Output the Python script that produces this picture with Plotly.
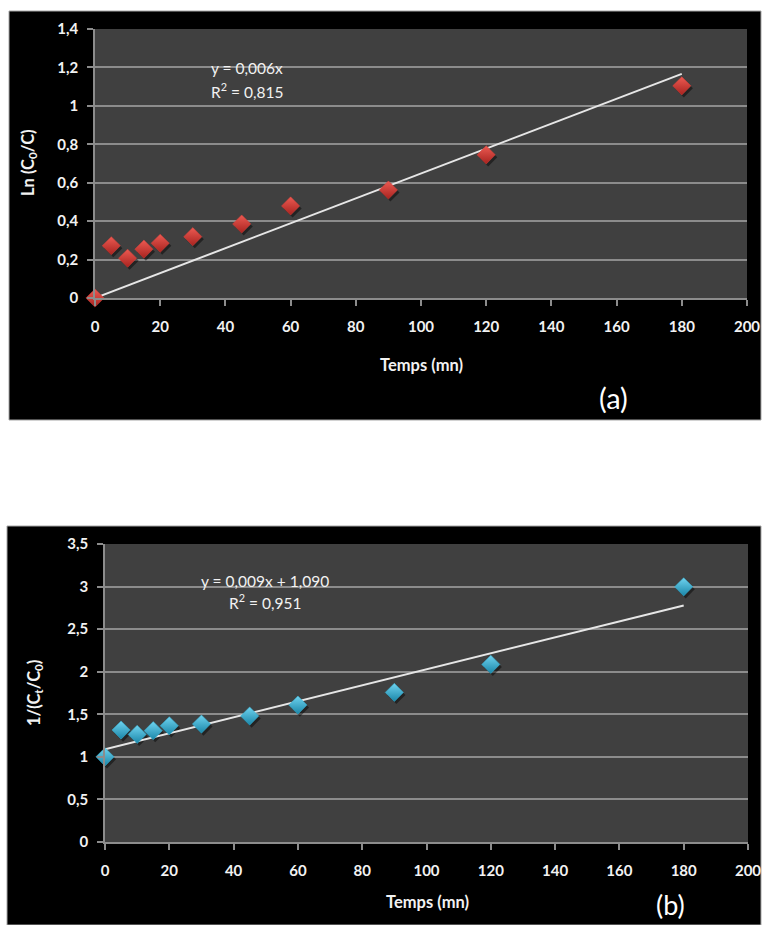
import plotly.graph_objects as go

# ---- data ----
temps = [0, 5, 10, 15, 20, 30, 45, 60, 90, 120, 180]
ln_c0_c = [0.0, 0.272, 0.207, 0.254, 0.285, 0.319, 0.385, 0.479, 0.562, 0.745, 1.104]
inv_ratio = [1.0, 1.315, 1.264, 1.307, 1.365, 1.385, 1.479, 1.608, 1.757, 2.086, 2.997]

# linear trendlines (fitted coefficients)
trend_a_slope, trend_a_icpt = 0.00648, 0.0
trend_b_slope, trend_b_icpt = 0.00938, 1.090
trend_x = [0, 180]

eq_a = ["y = 0,006x", "R<sup>2</sup> = 0,815"]
eq_b = ["y = 0,009x + 1,090", "R<sup>2</sup> = 0,951"]

x_ticks = list(range(0, 201, 20))
ya_ticks = [0, 0.2, 0.4, 0.6, 0.8, 1.0, 1.2, 1.4]
yb_ticks = [0, 0.5, 1.0, 1.5, 2.0, 2.5, 3.0, 3.5]

# ---- page geometry (pixels) ----
W, H = 764, 925


def px(x):
    return x / W


def py(y):
    return 1 - y / H


PA = dict(x0=95, x1=747, y0=29, y1=298)     # plot area of panel (a)
PB = dict(x0=105, x1=748, y0=544, y1=842)   # plot area of panel (b)

FONT = "Lato"
TXT = "#f2f2f2"
GRID = "#8c8c8c"
PLOT_BG = "#404040"

fig = go.Figure()


def add_panel(xs, ys, slope, icpt, xa, ya, area, yrange, main, dark, light):
    # soft drop shadow under each diamond
    sx = 2.0 * 200 / (area["x1"] - area["x0"])
    sy = 2.5 * (yrange[1] - yrange[0]) / (area["y1"] - area["y0"])
    fig.add_trace(go.Scatter(
        x=[v + sx for v in xs], y=[v - sy for v in ys], mode="markers",
        xaxis=xa, yaxis=ya, cliponaxis=False, hoverinfo="skip",
        marker=dict(symbol="diamond", size=14, color="rgba(0,0,0,0.45)",
                    line=dict(width=0)),
        showlegend=False))
    # trend line
    fig.add_trace(go.Scatter(
        x=trend_x, y=[icpt + slope * v for v in trend_x], mode="lines",
        xaxis=xa, yaxis=ya, line=dict(color="#e6e6e6", width=2),
        showlegend=False))
    # measured points
    fig.add_trace(go.Scatter(
        x=xs, y=ys, mode="markers", xaxis=xa, yaxis=ya, cliponaxis=False,
        marker=dict(symbol="diamond", size=14, color=light,
                    gradient=dict(type="vertical", color=dark),
                    line=dict(width=0.5, color=main)),
        showlegend=False))


add_panel(temps, ln_c0_c, trend_a_slope, trend_a_icpt, "x", "y", PA, [0, 1.4],
          "#d8403a", "#a8231f", "#ec5a52")
add_panel(temps, inv_ratio, trend_b_slope, trend_b_icpt, "x2", "y2", PB, [0, 3.5],
          "#34b2d6", "#1a86a8", "#6fd3ef")

axis_common = dict(
    showline=True, linecolor=GRID, linewidth=1.5,
    ticks="outside", ticklen=6, tickcolor=GRID, tickwidth=1.5,
    tickfont=dict(family=FONT, size=15, color=TXT, weight="bold"),
    zeroline=False, fixedrange=True, automargin=False,
)

fig.update_layout(
    template="none",
    width=W, height=H,
    margin=dict(l=0, r=0, t=0, b=0),
    paper_bgcolor="white", plot_bgcolor="rgba(0,0,0,0)",
    separators=", ",
    xaxis=dict(domain=[px(PA["x0"]), px(PA["x1"])], anchor="y",
               range=[0, 200], tickvals=x_ticks, showgrid=False,
               ticklabelstandoff=8, **axis_common),
    yaxis=dict(domain=[py(PA["y1"]), py(PA["y0"])], anchor="x",
               range=[0, 1.4], tickvals=ya_ticks, showgrid=True,
               gridcolor=GRID, gridwidth=1.5, ticklabelstandoff=6,
               **axis_common),
    xaxis2=dict(domain=[px(PB["x0"]), px(PB["x1"])], anchor="y2",
                range=[0, 200], tickvals=x_ticks, showgrid=False,
                ticklabelstandoff=8, **axis_common),
    yaxis2=dict(domain=[py(PB["y1"]), py(PB["y0"])], anchor="x2",
                range=[0, 3.5], tickvals=yb_ticks, showgrid=True,
                gridcolor=GRID, gridwidth=1.5, ticklabelstandoff=6,
                **axis_common),
)

# black chart frames and dark plot areas
shapes = []
for fx0, fy0, fx1, fy1 in [(9, 11, 761, 420), (7, 526, 761, 925)]:
    shapes.append(dict(type="rect", xref="paper", yref="paper", layer="below",
                       x0=px(fx0), x1=px(fx1), y0=py(fy1), y1=py(fy0),
                       fillcolor="black", line=dict(color="#a6a6a6", width=1)))
for xr, yr in [("x", "y"), ("x2", "y2")]:
    shapes.append(dict(type="rect", xref=f"{xr} domain", yref=f"{yr} domain",
                       layer="below", x0=0, x1=1, y0=0, y1=1,
                       fillcolor=PLOT_BG, line=dict(width=0)))
fig.update_layout(shapes=shapes)

ann = []
bold = dict(family=FONT, size=16.5, color=TXT, weight="bold")
plain = dict(family=FONT, size=15.5, color=TXT)

# axis titles
ann.append(dict(text="Temps (mn)", x=px(421), y=py(365), font=bold))
ann.append(dict(text="Temps (mn)", x=px(427), y=py(902), font=bold))
ann.append(dict(text="Ln (C<sub>0</sub>/C)", x=px(29), y=py(163),
                textangle=-90, font=bold))
ann.append(dict(text="1/(C<sub>t</sub>/C<sub>0</sub>)", x=px(34), y=py(693),
                textangle=-90, font=bold))

# trendline equations
ann.append(dict(text=eq_a[0], x=px(209), y=py(68), xanchor="left", font=plain))
ann.append(dict(text=eq_a[1], x=px(209), y=py(90), xanchor="left", font=plain))
ann.append(dict(text=eq_b[0], x=px(265), y=py(581), font=plain))
ann.append(dict(text=eq_b[1], x=px(265), y=py(601), font=plain))

# panel labels
ann.append(dict(text="(a)", x=px(613), y=py(397),
                font=dict(family=FONT, size=29, color="white")))
ann.append(dict(text="(b)", x=px(670), y=py(904),
                font=dict(family=FONT, size=27, color="white")))

for a in ann:
    a.setdefault("xanchor", "center")
    a.update(xref="paper", yref="paper", yanchor="middle", showarrow=False)
fig.update_layout(annotations=ann)

fig.write_html("out.html")
